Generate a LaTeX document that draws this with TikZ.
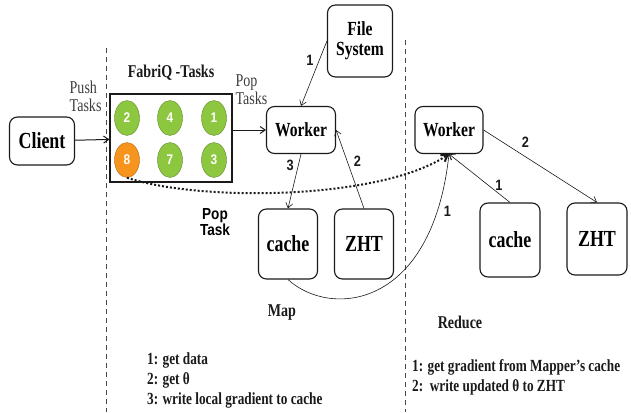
\documentclass[tikz,border=0pt]{standalone}
\usepackage{fontspec}
\setmainfont{Liberation Serif}[FakeStretch=0.78]
\setsansfont{Liberation Sans}[FakeStretch=0.85]
\usetikzlibrary{arrows.meta,positioning,shapes.geometric}
\definecolor{ink}{HTML}{1A1A1A}
\definecolor{taskgreen}{HTML}{8DC63F}
\definecolor{taskorange}{HTML}{F7941D}
\newcommand{\fs}[1]{\fontsize{#1}{#1}\selectfont}

\begin{document}
\begin{tikzpicture}[x=1pt,y=-1pt,>={Straight Barb[length=5pt,width=7pt]},
  box/.style={draw=ink,line width=1.1pt,rounded corners=8pt,align=center,
    inner sep=2pt,font=\bfseries\fs{20}},
  task/.style={ellipse,minimum width=25pt,minimum height=35pt,inner sep=0,
    draw=taskgreen!70!black,fill=taskgreen,text=white,font=\sffamily\bfseries\fs{14}},
  flow/.style={->,draw=ink,line width=.6pt},
  num/.style={font=\sffamily\bfseries\fs{15},text=ink},
  lbl/.style={font=\fs{18},text=ink!85,align=left},
  phase/.style={font=\bfseries\fs{18},text=ink},
  legend/.style={font=\bfseries\fs{17},text=ink,anchor=base west,inner sep=0},
  split/.style={draw=ink!80,line width=.9pt,dash pattern=on 5pt off 4pt}]

\useasboundingbox (0,0) rectangle (631,412);

% client and task queue
\node[box,minimum width=65pt,minimum height=48pt,font=\bfseries\fs{23}] (client) at (42,141) {Client};
\node[draw=ink,line width=1.1pt,minimum width=122pt,minimum height=88pt] (tasks) at (171,138) {};
\node[phase,above=9pt of tasks] (fabriq) {FabriQ -Tasks};
\foreach \n/\x/\y in {2/127/118,4/170/118,1/214/118,7/170/160,3/214/160}{
  \node[task] (t\n) at (\x,\y) {\n};}
\node[task,fill=taskorange,draw=taskorange!70!black] (t8) at (127,160) {8};
\node[lbl,anchor=east] (push) at (105,96) {Push\\Tasks};
\node[lbl,anchor=west] (poptasks) at (232,90) {Pop\\Tasks};

% map side
\node[box,minimum width=69pt,minimum height=47pt] (w1) at (301,130) {Worker};
\node[box,minimum width=65pt,minimum height=72pt] (fsys) at (360,41) {File\\System};
\node[box,minimum width=59pt,minimum height=70pt,font=\bfseries\fs{23}] (cache1) at (288,244) {cache};
\node[box,minimum width=59pt,minimum height=70pt,font=\bfseries\fs{23}] (zht1) at (364,244) {ZHT};

% reduce side
\node[box,minimum width=68pt,minimum height=47pt] (w2) at (449,130) {Worker};
\node[box,minimum width=60pt,minimum height=74pt,font=\bfseries\fs{23}] (cache2) at (510,240) {cache};
\node[box,minimum width=60pt,minimum height=72pt,font=\bfseries\fs{23}] (zht2) at (597,239) {ZHT};

% phase borders
\draw[split] (106,48) -- (106,412);
\draw[split] (405,40) -- (405,412);

% connectors
\draw[flow,line width=1pt] (client) -- (tasks);
\draw[flow,line width=1pt] (tasks.east |- w1.west) -- (w1.west);
\draw[flow] (fsys.west) -- (w1.north) node[num,pos=.3,left=2pt] {1};
\draw[flow] (w1.south) -- (cache1.north) node[num,pos=.2,left=1pt] {3};
\draw[flow] (zht1.north) -- (w1.east) node[num,pos=.6,right=3pt] {2};
\draw[flow] (w2.east) -- (zht2.north) node[num,pos=.3,above right=1pt] {2};
\draw[flow] (cache2.north) -- (w2.south) node[num,pos=.35,right=3pt] {1};
\draw[flow] (cache1.south) .. controls (330,318) and (432,310) .. (w2.south)
  node[num,pos=.86,right=3pt] {1};
\draw[->,draw=ink,line width=2pt,dotted,>={Straight Barb[length=6pt,width=8pt]}]
  (t8.south) .. controls (200,202) and (380,200) .. (w2.south);
\node[font=\sffamily\bfseries\fs{16},align=center] (poptask) at (215,222) {Pop\\Task};

% phase names and step legends
\node[phase] (map) at (282,313) {Map};
\node[phase] (reduce) at (460,322) {Reduce};
\node[legend] (m1) at (147,364) {1: get data};
\node[legend] (m2) at (147,384) {2: get θ};
\node[legend] (m3) at (147,404) {3: write local gradient to cache};
\node[legend] (r1) at (412,371) {1: get gradient from Mapper’s cache};
\node[legend] (r2) at (412,391) {2:\ \ write updated θ to ZHT};

\end{tikzpicture}
\end{document}
